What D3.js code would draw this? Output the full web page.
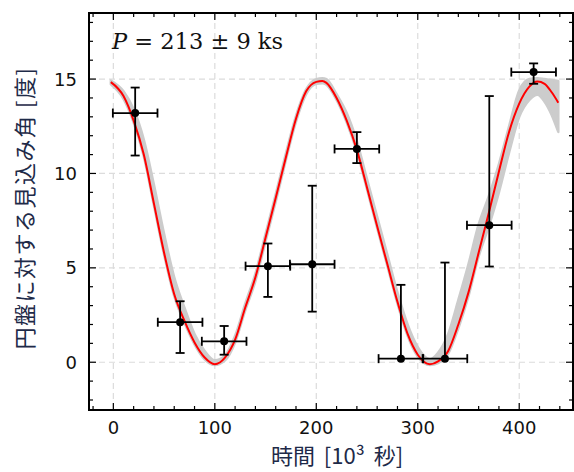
<!DOCTYPE html>
<html lang="ja">
<head>
<meta charset="utf-8">
<title>見込み角</title>
<style>
    body { margin: 0; background: #fff; }
    .tick-label { font-family: "DejaVu Sans", sans-serif; font-size: 18px; fill: #111; }
    .ax-title { font-family: "Noto Sans CJK JP", sans-serif; font-size: 22px; fill: #1e2a48; }
</style>
</head>
<body>
<div id="chart"></div>
<script src="https://cdn.jsdelivr.net/npm/d3@7"></script>
<script>

// measurements (10^3 s, degrees)
var obsTime   = [21.5, 65.8, 109.2, 152.3, 196.0, 240.0, 283.4, 326.8, 370.5, 414.2];
var obsTimeErr = [22, 22, 22, 22, 22, 22, 22, 22, 22, 22];
var obsAngle  = [13.2, 2.12, 1.11, 5.09, 5.19, 11.3, 0.19, 0.19, 7.26, 15.37];
var obsErrUp  = [1.35, 1.11, 0.81, 1.20, 4.16, 0.89, 3.91, 5.09, 6.84, 0.46];
var obsErrDn  = [2.25, 1.63, 0.71, 1.63, 2.51, 0.75, 0.00, 0.00, 2.19, 0.62];

// best fit model
var fitTime  = [-2.5, 10, 20, 30, 40, 50, 60, 70, 80, 90, 100, 110, 120, 130, 140, 150, 160, 170, 180, 190, 200, 206,
                210, 220, 230, 240, 250, 260, 270, 280, 290, 300, 312, 320, 330, 340, 350, 360, 370, 380, 390, 400, 410, 418, 425, 432, 438.5];
var fitAngle = [14.84, 14.1, 12.8, 11.0, 8.4, 5.8, 3.6, 2.2, 1.05, 0.25, -0.1, 0.25, 1.2, 2.9, 4.5, 6.6, 8.7, 10.85, 12.9, 14.35, 14.85, 14.9,
                14.8, 14.0, 12.8, 11.25, 9.25, 7.2, 5.2, 3.2, 1.5, 0.4, -0.1, 0.05, 0.6, 2.0, 3.7, 5.8, 7.9, 10.1, 12.2, 13.7, 14.6, 14.87, 14.75, 14.3, 13.75];

// spread of the model for P = 213 +- 9 ks (upper / lower edge of grey band)
var bandHi = [14.92, 14.35, 13.4, 11.8, 9.4, 6.8, 4.5, 2.9, 1.5, 0.6, 0.1, 0.35, 1.4, 3.1, 4.7, 6.8, 8.9, 11.05, 13.05, 14.45, 15.0, 15.05,
              15.0, 14.2, 13.2, 11.7, 9.7, 7.7, 5.7, 3.7, 2.0, 0.8, 0.15, 0.5, 1.5, 3.3, 5.2, 7.3, 8.8, 10.5, 12.5, 14.4, 15.0, 15.05, 15.0, 14.95, 14.9];
var bandLo = [14.72, 13.95, 12.7, 10.9, 8.3, 5.7, 3.5, 2.1, 0.95, 0.15, -0.15, 0.1, 1.05, 2.75, 4.3, 6.4, 8.5, 10.7, 12.75, 14.2, 14.75, 14.78,
              14.7, 13.9, 12.7, 11.15, 9.15, 7.1, 5.1, 3.1, 1.4, 0.3, -0.15, -0.05, 0.45, 1.8, 3.5, 5.6, 7.2, 9.0, 11.1, 13.0, 13.9, 14.17, 13.8, 13.1, 12.2];

var xTicks = [0, 100, 200, 300, 400];
var yTicks = [0, 5, 10, 15];

var width = 574, height = 472;
var plotL = 89, plotR = 573, plotT = 13, plotB = 410;

var svg = d3.select("#chart").append("svg")
    .attr("width", width)
    .attr("height", height);

var x = d3.scaleLinear().domain([-24, 453]).range([plotL, plotR]);
var y = d3.scaleLinear().domain([-2.53, 18.5]).range([plotB, plotT]);

var plot = svg.append("g");
plot.append("clipPath").attr("id", "clip")
    .append("rect").attr("x", plotL).attr("y", plotT).attr("width", plotR - plotL).attr("height", plotB - plotT);

// dashed grid
plot.selectAll(".gx").data(xTicks).enter().append("line")
    .attr("x1", function(d) { return x(d); }).attr("x2", function(d) { return x(d); })
    .attr("y1", plotT).attr("y2", plotB)
    .attr("stroke", "#dcdcdc").attr("stroke-width", 1.2).attr("stroke-dasharray", "6,4");
plot.selectAll(".gy").data(yTicks).enter().append("line")
    .attr("y1", function(d) { return y(d); }).attr("y2", function(d) { return y(d); })
    .attr("x1", plotL).attr("x2", plotR)
    .attr("stroke", "#dcdcdc").attr("stroke-width", 1.2).attr("stroke-dasharray", "6,4");

var fit = fitTime.map(function(t, i) { return { t: t, v: fitAngle[i], lo: bandLo[i], hi: bandHi[i] }; });

var area = d3.area()
    .x(function(d) { return x(d.t); })
    .y0(function(d) { return y(d.lo); })
    .y1(function(d) { return y(d.hi); })
    .curve(d3.curveMonotoneX);

var g = plot.append("g").attr("clip-path", "url(#clip)");
g.append("path").datum(fit)
    .attr("d", area)
    .attr("fill", "#cccccc")
    .attr("stroke", "#cccccc")
    .attr("stroke-width", 2.5)
    .attr("stroke-linejoin", "round");

var line = d3.line()
    .x(function(d) { return x(d.t); })
    .y(function(d) { return y(d.v); })
    .curve(d3.curveMonotoneX);

g.append("path").datum(fit)
    .attr("d", line)
    .attr("fill", "none")
    .attr("stroke", "#ff0000")
    .attr("stroke-width", 2);

// error bars
var obs = obsTime.map(function(t, i) {
    return { t: t, te: obsTimeErr[i], v: obsAngle[i], up: obsErrUp[i], dn: obsErrDn[i] };
});
var cap = 4.5;
var eb = plot.selectAll(".obs").data(obs).enter().append("g")
    .attr("stroke", "#000").attr("stroke-width", 1.8);
eb.append("line")
    .attr("x1", function(d) { return x(d.t - d.te); }).attr("x2", function(d) { return x(d.t + d.te); })
    .attr("y1", function(d) { return y(d.v); }).attr("y2", function(d) { return y(d.v); });
eb.append("line")
    .attr("x1", function(d) { return x(d.t); }).attr("x2", function(d) { return x(d.t); })
    .attr("y1", function(d) { return y(d.v + d.up); }).attr("y2", function(d) { return y(d.v - d.dn); });
eb.append("line")
    .attr("x1", function(d) { return x(d.t - d.te); }).attr("x2", function(d) { return x(d.t - d.te); })
    .attr("y1", function(d) { return y(d.v) - cap; }).attr("y2", function(d) { return y(d.v) + cap; });
eb.append("line")
    .attr("x1", function(d) { return x(d.t + d.te); }).attr("x2", function(d) { return x(d.t + d.te); })
    .attr("y1", function(d) { return y(d.v) - cap; }).attr("y2", function(d) { return y(d.v) + cap; });
eb.append("line")
    .attr("x1", function(d) { return x(d.t) - cap; }).attr("x2", function(d) { return x(d.t) + cap; })
    .attr("y1", function(d) { return y(d.v + d.up); }).attr("y2", function(d) { return y(d.v + d.up); });
eb.filter(function(d) { return d.dn > 0; }).append("line")
    .attr("x1", function(d) { return x(d.t) - cap; }).attr("x2", function(d) { return x(d.t) + cap; })
    .attr("y1", function(d) { return y(d.v - d.dn); }).attr("y2", function(d) { return y(d.v - d.dn); });
plot.selectAll(".dot").data(obs).enter().append("circle")
    .attr("cx", function(d) { return x(d.t); })
    .attr("cy", function(d) { return y(d.v); })
    .attr("r", 4)
    .attr("fill", "#000");

// frame with inward ticks on all sides
function tickSet(step, lo, hi) {
    return d3.range(Math.ceil(lo / step) * step, hi + 1e-9, step);
}
var xMinor = tickSet(20, -24, 453), yMinor = tickSet(1, -2.53, 18.5);
var axes = svg.append("g").attr("stroke", "#000");

axes.selectAll(".xt").data(xMinor).enter().append("g").each(function(d) {
    var len = xTicks.indexOf(d) >= 0 ? 7 : 4;
    d3.select(this).append("line").attr("x1", x(d)).attr("x2", x(d)).attr("y1", plotB).attr("y2", plotB - len).attr("stroke-width", 1.2);
    d3.select(this).append("line").attr("x1", x(d)).attr("x2", x(d)).attr("y1", plotT).attr("y2", plotT + len).attr("stroke-width", 1.2);
});
axes.selectAll(".yt").data(yMinor).enter().append("g").each(function(d) {
    var len = yTicks.indexOf(d) >= 0 ? 7 : 4;
    d3.select(this).append("line").attr("y1", y(d)).attr("y2", y(d)).attr("x1", plotL).attr("x2", plotL + len).attr("stroke-width", 1.2);
    d3.select(this).append("line").attr("y1", y(d)).attr("y2", y(d)).attr("x1", plotR).attr("x2", plotR - len).attr("stroke-width", 1.2);
});
axes.append("rect")
    .attr("x", plotL).attr("y", plotT).attr("width", plotR - plotL).attr("height", plotB - plotT)
    .attr("fill", "none").attr("stroke-width", 2);

svg.selectAll(".xl").data(xTicks).enter().append("text")
    .attr("class", "tick-label")
    .attr("x", function(d) { return x(d); })
    .attr("y", 434)
    .attr("text-anchor", "middle")
    .text(function(d) { return d; });
svg.selectAll(".yl").data(yTicks).enter().append("text")
    .attr("class", "tick-label")
    .attr("x", 77)
    .attr("y", function(d) { return y(d) + 6.5; })
    .attr("text-anchor", "end")
    .text(function(d) { return d; });

svg.append("text").attr("class", "ax-title")
    .attr("x", 337).attr("y", 464)
    .attr("text-anchor", "middle")
    .attr("word-spacing", 4)
    .text("時間 [10³ 秒]");
svg.append("text").attr("class", "ax-title")
    .attr("transform", "translate(33,208) rotate(-90)")
    .attr("text-anchor", "middle")
    .attr("font-size", 23)
    .attr("letter-spacing", 1.5)
    .text("円盤に対する見込み角 [度]");

var lbl = svg.append("text")
    .attr("x", 112).attr("y", 49)
    .attr("font-family", "DejaVu Serif, serif")
    .attr("font-size", 22.5)
    .attr("fill", "#111");
lbl.append("tspan").attr("font-style", "italic").text("P");
lbl.append("tspan").text(" = 213 ± 9 ks");

</script>
</body>
</html>
